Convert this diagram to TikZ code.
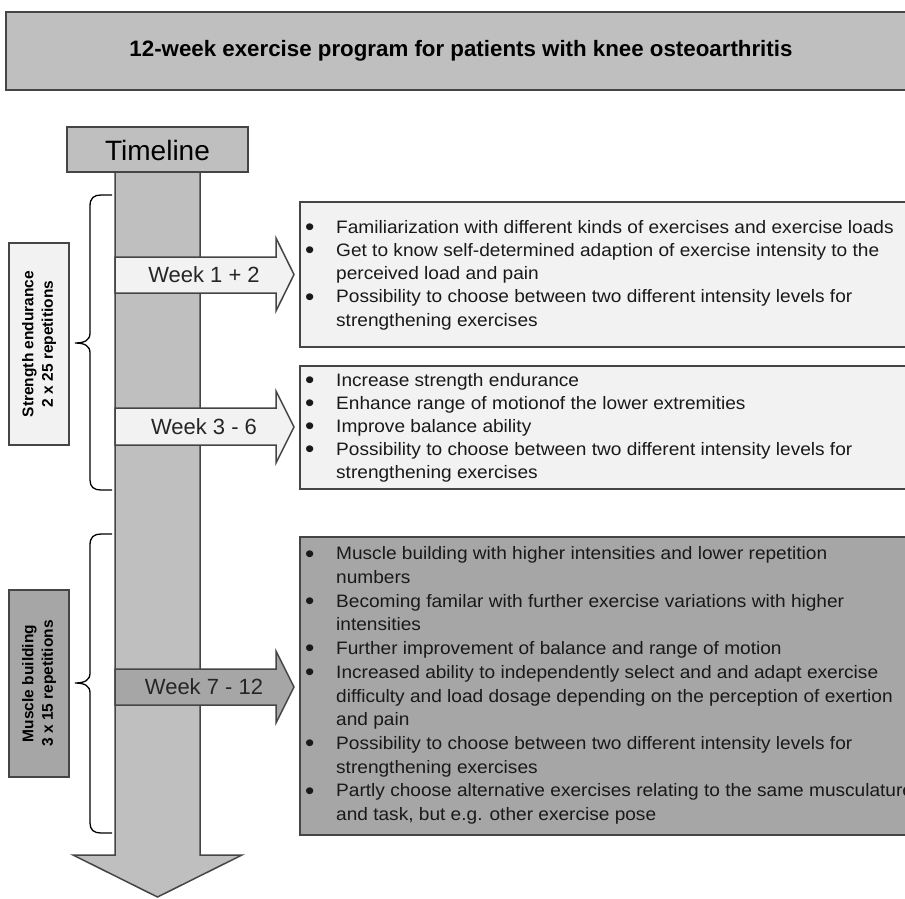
\documentclass[tikz,border=0pt]{standalone}
\usepackage{fontspec}
\setmainfont{Liberation Sans}
\newfontfamily\bodyfont[FakeStretch=1.06]{Liberation Sans}
\definecolor{lightfill}{HTML}{F2F2F2}
\definecolor{midfill}{HTML}{BFBFBF}
\definecolor{darkfill}{HTML}{A6A6A6}
\definecolor{edgecol}{HTML}{454545}
\newcommand\mybul{\raisebox{-2.2pt}{\fontsize{25}{30}\selectfont\textbullet}}
\tikzset{
  framebox/.style={draw=edgecol, line width=1.5pt},
  bodytext/.style={anchor=north west, inner sep=0pt, align=left, text=black!90},
  weektext/.style={inner sep=0pt, font=\fontsize{22}{26}\selectfont, text=black!85},
  sidetext/.style={rotate=90, inner sep=0pt, align=center, font=\bfseries\fontsize{15.5}{19.5}\selectfont},
  bracepath/.style={draw=black, line width=1.3pt}
}
\begin{document}
\begin{tikzpicture}[x=1pt,y=-1pt]
\useasboundingbox (0,0) rectangle (905,898);
\clip (0,0) rectangle (905,898);
\fill[white] (0,0) rectangle (905,898);

% title
\draw[framebox, fill=midfill] (6,12) rectangle (916,90);
\node[inner sep=0pt, font=\bfseries\fontsize{22.3}{26}\selectfont] (title) at (461,51) {12-week exercise program for patients with knee osteoarthritis};

% timeline shaft
\draw[framebox, fill=midfill, line join=miter] (200,172) -- (115,172) -- (115,855) -- (73,855) -- (157.5,897) -- (242,855) -- (200,855) -- cycle;
\draw[framebox, fill=midfill] (67,127) rectangle (248,172);
\node[inner sep=0pt, font=\fontsize{28}{32}\selectfont] (timeline) at (157.5,150) {Timeline};

% week arrows
\draw[framebox, fill=lightfill, line join=miter] (115,257) -- (276,257) -- (276,238) -- (294,274.5) -- (276,311) -- (276,293) -- (115,293) -- cycle;
\node[weektext] (w1) at (204,275) {Week 1 + 2};
\draw[framebox, fill=lightfill, line join=miter] (115,408) -- (276,408) -- (276,391) -- (294,427) -- (276,463) -- (276,445) -- (115,445) -- cycle;
\node[weektext] (w2) at (204,427) {Week 3 - 6};
\draw[framebox, fill=darkfill, line join=miter] (115,669) -- (276,669) -- (276,651) -- (294,687) -- (276,723) -- (276,705) -- (115,705) -- cycle;
\node[weektext] (w3) at (204,687) {Week 7 - 12};

% side labels
\draw[framebox, fill=lightfill] (9,243) rectangle (69,445);
\node[sidetext] (se) at (39,344) {Strength endurance\\2 x 25 repetitions};
\draw[framebox, fill=darkfill] (9,590) rectangle (69,777);
\node[sidetext] (mb) at (39,683.5) {Muscle building\\3 x 15 repetitions};

% braces
\draw[bracepath] (112,195) -- (101,195) .. controls (94,195) and (90,198) .. (90,206) -- (90,333) .. controls (90,340) and (85,343) .. (75,343) .. controls (85,343) and (90,346) .. (90,353) -- (90,480) .. controls (90,487) and (94,490) .. (101,490) -- (112,490);
\draw[bracepath] (112,534) -- (101,534) .. controls (94,534) and (90,537) .. (90,545) -- (90,673) .. controls (90,680) and (85,683) .. (75,683) .. controls (85,683) and (90,686) .. (90,693) -- (90,823) .. controls (90,830) and (94,833) .. (101,833) -- (112,833);

% text boxes
\draw[framebox, fill=lightfill] (300,202) rectangle (920,347);
\node[bodytext, font=\bodyfont\fontsize{18}{23.3}\selectfont] (b1) at (305,216.5) {%
\begin{tabular}{@{}p{31pt}@{}l@{}}
\mybul & Familiarization with different kinds of exercises and exercise loads\\
\mybul & Get to know self-determined adaption of exercise intensity to the\\
 & perceived load and pain\\
\mybul & Possibility to choose between two different intensity levels for\\
 & strengthening exercises
\end{tabular}};

\draw[framebox, fill=lightfill] (300,366) rectangle (920,489);
\node[bodytext, font=\bodyfont\fontsize{18}{23.1}\selectfont] (b2) at (305,370) {%
\begin{tabular}{@{}p{31pt}@{}l@{}}
\mybul & Increase strength endurance\\
\mybul & Enhance range of motionof the lower extremities\\
\mybul & Improve balance ability\\
\mybul & Possibility to choose between two different intensity levels for\\
 & strengthening exercises
\end{tabular}};

\draw[framebox, fill=darkfill] (300,537) rectangle (920,835);
\node[bodytext, font=\bodyfont\fontsize{18}{23.7}\selectfont] (b3) at (305,543) {%
\begin{tabular}{@{}p{31pt}@{}l@{}}
\mybul & Muscle building with higher intensities and lower repetition\\
 & numbers\\
\mybul & Becoming familar with further exercise variations with higher\\
 & intensities\\
\mybul & Further improvement of balance and range of motion\\
\mybul & Increased ability to independently select and and adapt exercise\\
 & difficulty and load dosage depending on the perception of exertion\\
 & and pain\\
\mybul & Possibility to choose between two different intensity levels for\\
 & strengthening exercises\\
\mybul & Partly choose alternative exercises relating to the same musculature\\
 & and task, but e.g. other exercise pose
\end{tabular}};
\end{tikzpicture}
\end{document}
